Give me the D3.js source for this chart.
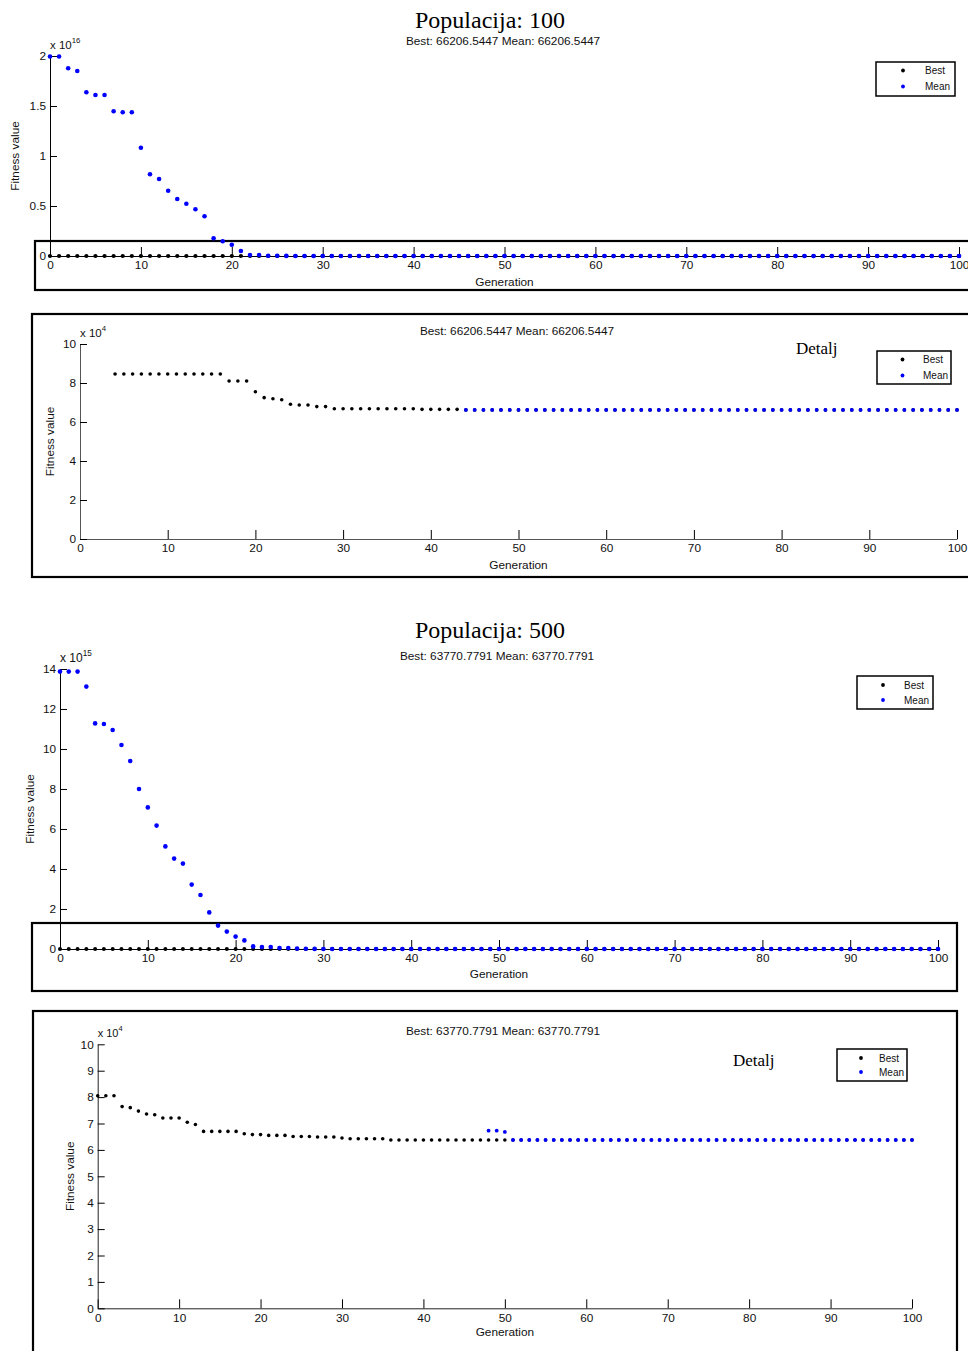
<!DOCTYPE html>
<html><head><meta charset="utf-8">
<script src="https://cdn.jsdelivr.net/npm/d3@7"></script>
<style>body{margin:0;background:#fff;overflow:hidden}svg{display:block}</style>
</head><body>
<svg id="c" width="968" height="1351"></svg>
<script>
// ---------- DATA ----------
const generations = d3.range(0, 101);
const xTickValues = [0, 10, 20, 30, 40, 50, 60, 70, 80, 90, 100];
const seriesNames = ["Best", "Mean"];
const titles = ["Populacija: 100", "Populacija: 500"];
const subtitles = ["Best: 66206.5447 Mean: 66206.5447", "Best: 63770.7791 Mean: 63770.7791"];
const detailLabel = "Detalj";

const best100 = [121000, 118000, 109000, 104000,
  84600, 84600, 84600, 84600, 84600, 84600, 84600, 84600, 84600, 84600, 84600, 84600, 84600,
  81000, 81000, 81000,
  75500, 72500, 71900, 71400, 69100, 68700, 68700, 67900, 67900,
  66800, 66800, 66800, 66800, 66800, 66800, 66800, 66800, 66800, 66800,
  66500, 66500, 66500, 66500, 66500,
  66206.5447, 66206.5447, 66206.5447, 66206.5447, 66206.5447, 66206.5447, 66206.5447, 66206.5447, 66206.5447, 66206.5447,
  66206.5447, 66206.5447, 66206.5447, 66206.5447, 66206.5447, 66206.5447, 66206.5447, 66206.5447, 66206.5447, 66206.5447,
  66206.5447, 66206.5447, 66206.5447, 66206.5447, 66206.5447, 66206.5447, 66206.5447, 66206.5447, 66206.5447, 66206.5447,
  66206.5447, 66206.5447, 66206.5447, 66206.5447, 66206.5447, 66206.5447, 66206.5447, 66206.5447, 66206.5447, 66206.5447,
  66206.5447, 66206.5447, 66206.5447, 66206.5447, 66206.5447, 66206.5447, 66206.5447, 66206.5447, 66206.5447, 66206.5447,
  66206.5447, 66206.5447, 66206.5447, 66206.5447, 66206.5447, 66206.5447, 66206.5447];

const mean100 = [1.995e16, 1.995e16, 1.877e16, 1.85e16, 1.637e16, 1.61e16, 1.61e16, 1.447e16, 1.437e16, 1.437e16,
  1.083e16, 8.17e15, 7.7e15, 6.53e15, 5.7e15, 5.23e15, 4.67e15, 3.97e15, 1.77e15, 1.47e15,
  1.13e15, 5.0e14, 1.0e14, 1.0e14,
  3e13, 2e13, 1e13, 6e12, 3e12, 1e12, 5e11, 2e11, 8e10, 3e10,
  1e10, 4e9, 1e9, 3e8, 8e7, 2e7, 5e6, 1e6, 3e5, 1.2e5,
  66206.5447, 66206.5447, 66206.5447, 66206.5447, 66206.5447, 66206.5447, 66206.5447, 66206.5447, 66206.5447, 66206.5447,
  66206.5447, 66206.5447, 66206.5447, 66206.5447, 66206.5447, 66206.5447, 66206.5447, 66206.5447, 66206.5447, 66206.5447,
  66206.5447, 66206.5447, 66206.5447, 66206.5447, 66206.5447, 66206.5447, 66206.5447, 66206.5447, 66206.5447, 66206.5447,
  66206.5447, 66206.5447, 66206.5447, 66206.5447, 66206.5447, 66206.5447, 66206.5447, 66206.5447, 66206.5447, 66206.5447,
  66206.5447, 66206.5447, 66206.5447, 66206.5447, 66206.5447, 66206.5447, 66206.5447, 66206.5447, 66206.5447, 66206.5447,
  66206.5447, 66206.5447, 66206.5447, 66206.5447, 66206.5447, 66206.5447, 66206.5447];

const best500 = [80500, 80500, 80500,
  76400, 76000, 74700, 73600, 73300,
  72100, 72100, 72100,
  70500, 69600,
  67000, 67000, 67000, 67000, 67000,
  66100,
  65800, 65800,
  65500, 65500, 65500,
  65100, 65100, 65100,
  64900, 64900, 64900,
  64500,
  64200, 64200, 64200, 64200, 64200,
  63770.7791, 63770.7791, 63770.7791, 63770.7791, 63770.7791, 63770.7791, 63770.7791, 63770.7791, 63770.7791, 63770.7791,
  63770.7791, 63770.7791, 63770.7791, 63770.7791, 63770.7791, 63770.7791, 63770.7791, 63770.7791, 63770.7791, 63770.7791,
  63770.7791, 63770.7791, 63770.7791, 63770.7791, 63770.7791, 63770.7791, 63770.7791, 63770.7791, 63770.7791, 63770.7791,
  63770.7791, 63770.7791, 63770.7791, 63770.7791, 63770.7791, 63770.7791, 63770.7791, 63770.7791, 63770.7791, 63770.7791,
  63770.7791, 63770.7791, 63770.7791, 63770.7791, 63770.7791, 63770.7791, 63770.7791, 63770.7791, 63770.7791, 63770.7791,
  63770.7791, 63770.7791, 63770.7791, 63770.7791, 63770.7791, 63770.7791, 63770.7791, 63770.7791, 63770.7791, 63770.7791,
  63770.7791, 63770.7791, 63770.7791, 63770.7791, 63770.7791];

const mean500 = [1.387e16, 1.387e16, 1.387e16, 1.312e16, 1.128e16, 1.125e16, 1.095e16, 1.02e16, 9.4e15, 8.0e15,
  7.08e15, 6.17e15, 5.13e15, 4.52e15, 4.27e15, 3.22e15, 2.7e15, 1.83e15, 1.17e15, 8.7e14,
  6.2e14, 4.3e14, 1.3e14, 1.0e14, 1.0e14, 5e13, 5e13,
  2e13, 1e13, 5e12, 2e12, 1e12, 4e11, 1.5e11, 6e10, 2e10, 8e9,
  3e9, 1e9, 4e8, 1.5e8, 5e7, 2e7, 6e6, 2e6, 7e5, 3e5, 1.3e5,
  67300, 67300, 66800,
  63770.7791, 63770.7791, 63770.7791, 63770.7791, 63770.7791, 63770.7791, 63770.7791, 63770.7791, 63770.7791, 63770.7791,
  63770.7791, 63770.7791, 63770.7791, 63770.7791, 63770.7791, 63770.7791, 63770.7791, 63770.7791, 63770.7791, 63770.7791,
  63770.7791, 63770.7791, 63770.7791, 63770.7791, 63770.7791, 63770.7791, 63770.7791, 63770.7791, 63770.7791, 63770.7791,
  63770.7791, 63770.7791, 63770.7791, 63770.7791, 63770.7791, 63770.7791, 63770.7791, 63770.7791, 63770.7791, 63770.7791,
  63770.7791, 63770.7791, 63770.7791, 63770.7791, 63770.7791, 63770.7791, 63770.7791, 63770.7791, 63770.7791, 63770.7791];

const yTicksP1 = [0, 0.5e16, 1e16, 1.5e16, 2e16];
const yTickLabelsP1 = ["0", "0.5", "1", "1.5", "2"];
const yTicksP2 = [0, 2e4, 4e4, 6e4, 8e4, 10e4];
const yTickLabelsP2 = ["0", "2", "4", "6", "8", "10"];
const yTicksP3 = [0, 2e15, 4e15, 6e15, 8e15, 10e15, 12e15, 14e15];
const yTickLabelsP3 = ["0", "2", "4", "6", "8", "10", "12", "14"];
const yTicksP4 = [0, 1e4, 2e4, 3e4, 4e4, 5e4, 6e4, 7e4, 8e4, 9e4, 10e4];
const yTickLabelsP4 = ["0", "1", "2", "3", "4", "5", "6", "7", "8", "9", "10"];

// ---------- DRAW ----------
const SANS = "'Liberation Sans', Arial, Helvetica, sans-serif";
const SERIF = "'Liberation Serif', 'Times New Roman', serif";
const svg = d3.select("#c");
const colors = { Best: "#000000", Mean: "#0000ff" };
const FS = 11.8;

function panel(o) {
  const g = svg.append("g");
  const x = d3.scaleLinear().domain([0, 100]).range([o.x0, o.x1]);
  const y = d3.scaleLinear().domain([0, o.ymax]).range([o.yb, o.yt]);

  // frame
  g.append("rect").attr("x", o.frame[0]).attr("y", o.frame[1])
    .attr("width", o.frame[2] - o.frame[0]).attr("height", o.frame[3] - o.frame[1])
    .attr("fill", "none").attr("stroke", "#000").attr("stroke-width", 2.2);

  // x axis
  const xa = g.append("g").attr("transform", `translate(0,${o.yb})`)
    .call(d3.axisBottom(x).tickValues(xTickValues).tickSizeInner(-9).tickSizeOuter(0).tickPadding(5).tickFormat(d3.format("d")));
  xa.selectAll("text").attr("font-family", SANS).attr("font-size", FS).attr("fill", "#111");
  xa.select(".domain").attr("stroke", o.axisColor).attr("stroke-width", 1);
  xa.selectAll(".tick line").attr("stroke", "#000");

  // y axis
  const ya = g.append("g").attr("transform", `translate(${o.x0},0)`)
    .call(d3.axisLeft(y).tickValues(o.yTicks).tickSizeInner(-7).tickSizeOuter(0).tickPadding(4)
      .tickFormat((d, i) => o.yLabels[i]));
  ya.selectAll("text").attr("font-family", SANS).attr("font-size", FS).attr("fill", "#111");
  ya.select(".domain").attr("stroke", o.axisColor).attr("stroke-width", 1);

  // exponent label
  const ex = g.append("text").attr("x", o.x0).attr("y", o.yt - 7)
    .attr("font-family", SANS).attr("font-size", o.expFs).attr("fill", "#111");
  ex.append("tspan").text("x 10");
  ex.append("tspan").attr("dy", -6).attr("font-size", o.expFs * 0.68).text(o.exp);

  // axis labels
  g.append("text").attr("x", (o.x0 + o.x1) / 2).attr("y", o.genY)
    .attr("text-anchor", "middle").attr("font-family", SANS).attr("font-size", FS).attr("fill", "#111").text("Generation");
  g.append("text").attr("transform", `translate(${o.fvX},${(o.yb + o.yt) / 2}) rotate(-90)`)
    .attr("text-anchor", "middle").attr("font-family", SANS).attr("font-size", FS).attr("fill", "#111").text("Fitness value");

  // titles
  if (o.title) {
    g.append("text").attr("x", o.title[1]).attr("y", o.title[2]).attr("text-anchor", "middle")
      .attr("font-family", SERIF).attr("font-size", 24).attr("fill", "#000").text(o.title[0]);
  }
  g.append("text").attr("x", o.sub[1]).attr("y", o.sub[2]).attr("text-anchor", "middle")
    .attr("font-family", SANS).attr("font-size", FS).attr("fill", "#111").text(o.sub[0]);
  if (o.detalj) {
    g.append("text").attr("x", o.detalj[0]).attr("y", o.detalj[1])
      .attr("font-family", SERIF).attr("font-size", 17).attr("fill", "#000").text(detailLabel);
  }

  // points
  const series = [{ name: "Best", values: o.best }, { name: "Mean", values: o.mean }];
  series.forEach(s => {
    g.append("g").selectAll("circle")
      .data(generations.map(gen => ({ gen, v: s.values[gen] })).filter(d => d.v <= o.ymax))
      .join("circle")
      .attr("cx", d => x(d.gen)).attr("cy", d => y(d.v))
      .attr("r", s.name === "Best" ? o.rb : o.rm).attr("fill", colors[s.name]);
  });

  // legend
  const L = o.legend; // [x0,y0,x1,y1,dotX,textX,row1Y,row2Y]
  g.append("rect").attr("x", L[0]).attr("y", L[1]).attr("width", L[2] - L[0]).attr("height", L[3] - L[1])
    .attr("fill", "#fff").attr("stroke", "#000").attr("stroke-width", 1.5);
  seriesNames.forEach((n, i) => {
    const ry = i === 0 ? L[6] : L[7];
    g.append("circle").attr("cx", L[4]).attr("cy", ry).attr("r", 1.9).attr("fill", colors[n]);
    g.append("text").attr("x", L[5]).attr("y", ry + 3.5).attr("font-family", SANS).attr("font-size", 10)
      .attr("fill", "#111").text(n);
  });
}

panel({ x0: 50, x1: 959, yb: 256, yt: 56, ymax: 2e16, yTicks: yTicksP1, yLabels: yTickLabelsP1, exp: "16", expFs: 11.5,
  axisColor: "#000", frame: [35, 241, 990, 290], genY: 285.5, fvX: 19, title: [titles[0], 490, 28], sub: [subtitles[0], 503, 45],
  best: best100, mean: mean100, rb: 2.1, rm: 2.3, legend: [876, 62, 955, 96, 903, 925, 70.5, 86.5] });

panel({ x0: 80, x1: 957, yb: 539, yt: 344, ymax: 1e5, yTicks: yTicksP2, yLabels: yTickLabelsP2, exp: "4", expFs: 11.5,
  axisColor: "#555", frame: [32, 314, 990, 577], genY: 568.5, fvX: 54, sub: [subtitles[0], 517, 335], detalj: [796, 354],
  best: best100, mean: mean100, rb: 1.8, rm: 1.9, legend: [877, 351, 951, 384, 902.5, 923, 359.5, 375.5] });

panel({ x0: 60, x1: 938, yb: 949, yt: 669, ymax: 14e15, yTicks: yTicksP3, yLabels: yTickLabelsP3, exp: "15", expFs: 12,
  axisColor: "#000", frame: [32, 923, 957, 991], genY: 977.5, fvX: 34, title: [titles[1], 490, 638], sub: [subtitles[1], 497, 660],
  best: best500, mean: mean500, rb: 2.0, rm: 2.3, legend: [857, 676, 933, 709, 883, 904, 685, 700] });

panel({ x0: 97.7, x1: 912, yb: 1308.3, yt: 1044.3, ymax: 1e5, yTicks: yTicksP4, yLabels: yTickLabelsP4, exp: "4", expFs: 11,
  axisColor: "#222", frame: [33, 1011, 957, 1370], genY: 1335.5, fvX: 74, sub: [subtitles[1], 503, 1035], detalj: [733, 1066],
  best: best500, mean: mean500, rb: 1.8, rm: 1.9, legend: [837, 1049, 907, 1081, 861, 879, 1058, 1072] });
</script>
</body></html>
